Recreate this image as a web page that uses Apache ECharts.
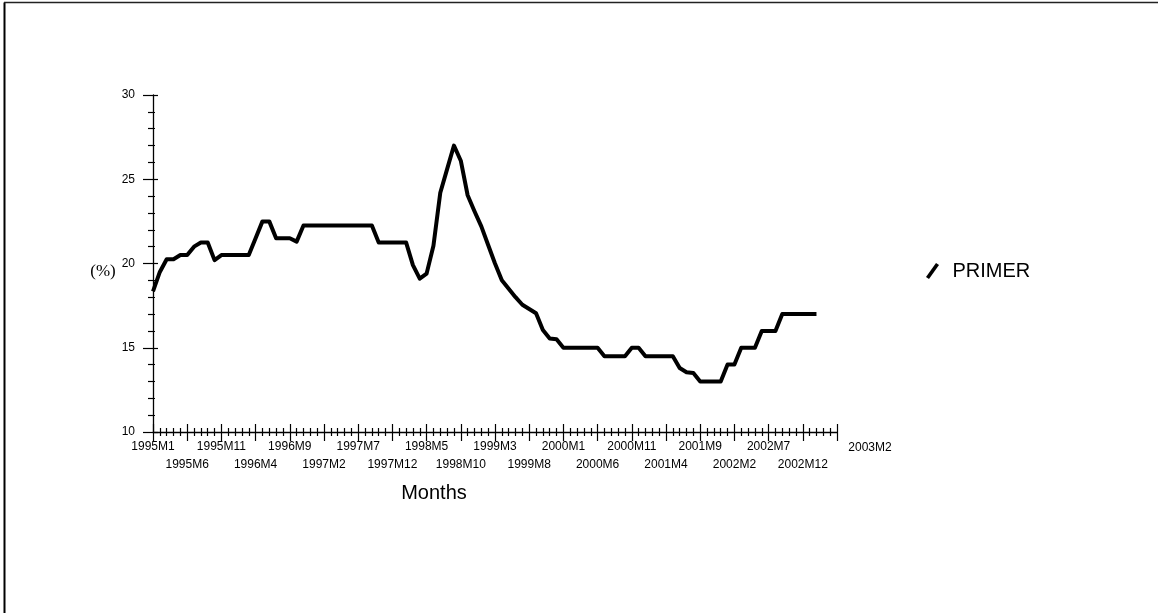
<!DOCTYPE html>
<html>
<head>
<meta charset="utf-8">
<title>PRIMER</title>
<script src="https://cdn.jsdelivr.net/npm/echarts@6/dist/echarts.min.js"></script>
<style>
  html, body { margin: 0; padding: 0; background: #fff; }
  #chart { width: 1158px; height: 613px; }
</style>
</head>
<body>
<div id="chart"></div>
<script>
// Monthly rate, 1995M1 .. 2003M2 (one value per month)
const primer = [
  18.35, 19.5, 20.25, 20.25, 20.5, 20.5, 21.0, 21.25, 21.25, 20.2,
  20.5, 20.5, 20.5, 20.5, 20.5, 21.5, 22.5, 22.5, 21.5, 21.5,
  21.5, 21.3, 22.25, 22.25, 22.25, 22.25, 22.25, 22.25, 22.25, 22.25,
  22.25, 22.25, 22.25, 21.25, 21.25, 21.25, 21.25, 21.25, 19.9, 19.1,
  19.4, 21.05, 24.2, 25.6, 27.0, 26.1, 24.05, 23.1, 22.2, 21.1,
  20.0, 19.0, 18.5, 18.0, 17.55, 17.3, 17.05, 16.05, 15.55, 15.5,
  15.0, 15.0, 15.0, 15.0, 15.0, 15.0, 14.5, 14.5, 14.5, 14.5,
  15.0, 15.0, 14.5, 14.5, 14.5, 14.5, 14.5, 13.8, 13.55, 13.5,
  13.0, 13.0, 13.0, 13.0, 14.0, 14.0, 15.0, 15.0, 15.0, 16.0,
  16.0, 16.0, 17.0, 17.0, 17.0, 17.0, 17.0, 17.0
];

// Labels for the major month ticks (every fifth month)
const xTickLabels = [
  '1995M1', '1995M6', '1995M11', '1996M4', '1996M9', '1997M2', '1997M7',
  '1997M12', '1998M5', '1998M10', '1999M3', '1999M8', '2000M1', '2000M6',
  '2000M11', '2001M4', '2001M9', '2002M2', '2002M7', '2002M12', '2003M2'
];

const seriesName = 'PRIMER';
const xAxisTitle = 'Months';
const yAxisTitle = '(%)';

const points = primer.map((v, i) => [i, v]);

const sans = "'Liberation Sans', Arial, sans-serif";
const serif = "'Liberation Serif', 'Times New Roman', serif";

// Month labels alternate between two rows: even ticks on the first row,
// odd ticks on the second row; the closing label sits off to the right.
function labelFor(v, row) {
  const k = Math.round(v / 5);
  const t = xTickLabels[k];
  if (t === undefined || k % 2 !== row) return '';
  if (k === xTickLabels.length - 1) return '{last|' + t + '}';
  return t;
}

const monthAxisBase = {
  type: 'value',
  min: 0,
  max: 100,
  interval: 5,
  position: 'bottom',
  splitLine: { show: false },
  minorSplitLine: { show: false }
};

const rateAxisBase = {
  type: 'value',
  min: 10,
  max: 30,
  interval: 5,
  position: 'left',
  splitLine: { show: false },
  minorSplitLine: { show: false }
};

const tickLine = { color: '#000', width: 1.2 };
const labelFont = { fontFamily: sans, fontSize: 12, color: '#000' };

const chart = echarts.init(document.getElementById('chart'), null, { renderer: 'canvas' });

chart.setOption({
  animation: false,
  backgroundColor: '#fff',
  grid: { left: 153, right: 321, top: 95, bottom: 181, containLabel: false },
  legend: {
    data: [seriesName],
    left: 921,
    top: 256,
    orient: 'vertical',
    icon: 'path://M0,14 L10,0 L13,2 L3,16 Z',
    itemWidth: 14,
    itemHeight: 16,
    textStyle: { fontFamily: sans, fontSize: 20, color: '#000', padding: [0, 0, 0, 8] }
  },
  xAxis: [
    Object.assign({}, monthAxisBase, {
      axisLine: { show: true, lineStyle: { color: '#000', width: 1.3 } },
      axisTick: { show: true, inside: false, length: 9, lineStyle: tickLine },
      minorTick: { show: true, splitNumber: 5, length: 4, lineStyle: tickLine },
      axisLabel: Object.assign({
        show: true,
        margin: 9,
        showMinLabel: true,
        showMaxLabel: true,
        formatter: (v) => labelFor(v, 0),
        rich: {
          last: Object.assign({ padding: [0, 0, 0, 66], lineHeight: 14 }, labelFont)
        }
      }, labelFont)
    }),
    Object.assign({}, monthAxisBase, {
      axisLine: { show: false },
      axisTick: { show: true, inside: true, length: 8, lineStyle: tickLine },
      minorTick: { show: true, splitNumber: 5, length: 4, lineStyle: tickLine },
      axisLabel: Object.assign({
        show: true,
        margin: 27,
        showMinLabel: true,
        showMaxLabel: true,
        formatter: (v) => labelFor(v, 1)
      }, labelFont)
    })
  ],
  yAxis: [
    Object.assign({}, rateAxisBase, {
      axisLine: { show: true, lineStyle: { color: '#000', width: 1.3 } },
      axisTick: { show: true, inside: false, length: 10, lineStyle: tickLine },
      minorTick: { show: true, splitNumber: 5, length: 5, lineStyle: tickLine },
      axisLabel: Object.assign({ show: true, margin: 18 }, labelFont)
    }),
    Object.assign({}, rateAxisBase, {
      axisLine: { show: false },
      axisLabel: { show: false },
      axisTick: { show: true, inside: true, length: 5, lineStyle: tickLine },
      minorTick: { show: true, splitNumber: 5, length: 2, lineStyle: tickLine }
    })
  ],
  series: [
    {
      name: seriesName,
      type: 'line',
      xAxisIndex: 0,
      yAxisIndex: 0,
      data: points,
      showSymbol: false,
      symbol: 'none',
      color: '#000',
      itemStyle: { color: '#000' },
      lineStyle: { color: '#000', width: 4, join: 'round', cap: 'butt' }
    }
  ],
  graphic: [
    {
      type: 'text',
      x: 103,
      y: 272,
      style: { text: yAxisTitle, font: '17px ' + serif, fill: '#000', align: 'center', verticalAlign: 'middle' }
    },
    {
      type: 'text',
      x: 434,
      y: 493,
      style: { text: xAxisTitle, font: '20px ' + sans, fill: '#000', align: 'center', verticalAlign: 'middle' }
    },
    // page frame
    { type: 'line', shape: { x1: 4.5, y1: 2.5, x2: 4.5, y2: 613 }, style: { stroke: '#000', lineWidth: 2 } },
    { type: 'line', shape: { x1: 4, y1: 2.5, x2: 1158, y2: 2.5 }, style: { stroke: '#222', lineWidth: 1.5 } }
  ]
});
</script>
</body>
</html>
